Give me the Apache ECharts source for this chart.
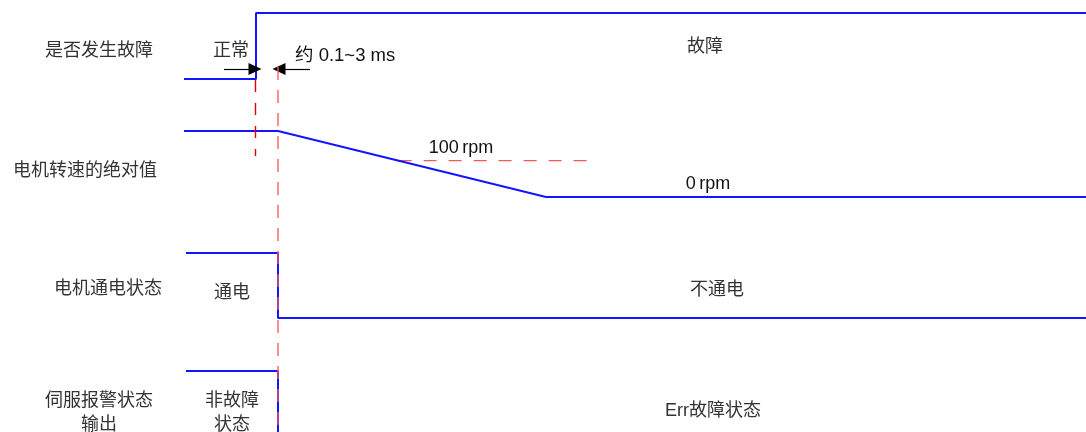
<!DOCTYPE html>
<html>
<head>
<meta charset="utf-8">
<script src="https://cdn.jsdelivr.net/npm/echarts@6/dist/echarts.min.js"></script>
<style>
html,body{margin:0;padding:0;background:#fff;}
#chart{width:1086px;height:432px;}
</style>
</head>
<body>
<div id="chart"></div>
<script>
// ---- Data (time in schematic units along the diagram, levels normalised 0..1) ----
const rowNames = ['是否发生故障', '电机转速的绝对值', '电机通电状态', '伺服报警状态\n输出'];
const tStart = 0;
const tFault = 72;      // fault occurs
const tCutoff = 94;     // power cut / alarm output (about 0.1~3 ms after fault)
const tStop = 362;      // motor speed reaches 0 rpm
const tEnd = 902;
const tThresholdEnd = 406; // end of the 100 rpm reference line

const faultTimes  = [tStart, tFault, tFault, tEnd];
const faultLevels = [0, 0, 1, 1];
const speedTimes  = [tStart, tCutoff, tStop, tEnd];
const speedLevels = [1, 1, 0, 0];
const powerTimes  = [2, tCutoff, tCutoff, tEnd];
const powerLevels = [1, 1, 0, 0];
const alarmTimes  = [2, tCutoff, tCutoff];   // low level lies below the visible area
const alarmLevels = [1, 1, 0];
const speedThreshold = 0.55; // 100 rpm level on the normalised speed axis

const stateLabels = {
  normal: '正常', fault: '故障', delay: '约 0.1~3 ms',
  rpm100: '100\u2009rpm', rpm0: '0\u2009rpm',
  powered: '通电', unpowered: '不通电',
  noFault: '非故障\n状态', errFault: 'Err故障状态'
};

const pair = (xs, ys) => xs.map((x, i) => [x, ys[i]]);
// crossing of the deceleration ramp with the 100 rpm level
const tCross = tCutoff + (1 - speedThreshold) * (tStop - tCutoff);

const BLUE = '#1414ff';
const TXT = '#333';
const FONT_CJK = '"Noto Sans CJK SC", sans-serif';
const FONT_MIX = '"Liberation Sans", "Noto Sans CJK SC", sans-serif';

const chart = echarts.init(document.getElementById('chart'), null, {renderer: 'canvas'});

const rowGrids = [
  {left: 184, right: 0, top: 13, height: 66},
  {left: 184, right: 0, top: 131, height: 66},
  {left: 184, right: 0, top: 253, height: 65},
  {left: 184, right: 0, top: 371, bottom: 0}
];
const overlayGrid = {left: 184, right: 0, top: 0, bottom: 0};
const grids = rowGrids.concat([overlayGrid]);

const xAxes = grids.map((g, i) => ({
  type: 'value', gridIndex: i, min: tStart, max: tEnd, show: false
}));
const yAxes = rowGrids.map((g, i) => ({
  type: 'value', gridIndex: i, min: 0, max: 1, show: false
})).concat([{type: 'value', gridIndex: 4, min: 0, max: 432, inverse: true, show: false}]);

function signal(idx, xs, ys) {
  return {
    type: 'line', xAxisIndex: idx, yAxisIndex: idx, data: pair(xs, ys),
    symbol: 'none', clip: false, silent: true, animation: false,
    lineStyle: {color: BLUE, width: 2}, z: 3
  };
}
function overlayLine(points, color, width, dash, z) {
  return {
    type: 'line', xAxisIndex: 4, yAxisIndex: 4, data: points,
    symbol: 'none', clip: false, silent: true, animation: false,
    lineStyle: {color: color, width: width, type: dash}, z: z || 5
  };
}

const series = [
  signal(0, faultTimes, faultLevels),
  signal(1, speedTimes, speedLevels),
  signal(2, powerTimes, powerLevels),
  signal(3, alarmTimes, alarmLevels),
  // 100 rpm reference (dashed) in speed row
  {
    type: 'line', xAxisIndex: 1, yAxisIndex: 1,
    data: [[tCross, speedThreshold], [tThresholdEnd, speedThreshold]],
    symbol: 'none', silent: true, animation: false,
    lineStyle: {color: '#f05a5a', width: 1.3, type: [13, 12]}, z: 2
  },
  // vertical dashed markers
  overlayLine([[tFault - 0.5, 80], [tFault - 0.5, 156]], '#e00000', 1.4, [12, 11], 5),
  overlayLine([[tCutoff, 67], [tCutoff, 432]], 'rgba(255,90,90,0.75)', 1.8, [13, 10], 5),
  // arrows indicating the delay
  {
    type: 'line', xAxisIndex: 4, yAxisIndex: 4, data: [], silent: true, animation: false,
    markLine: {
      silent: true, animation: false,
      symbol: ['none', 'triangle'], symbolSize: [12, 13],
      lineStyle: {color: '#000', width: 1.2, type: 'solid'},
      label: {show: false},
      data: [
        [{coord: [tFault - 32, 69]}, {coord: [tFault - 1, 69]}],
        [{coord: [tCutoff + 32, 69]}, {coord: [tCutoff + 1, 69]}]
      ]
    }
  }
];

function txt(text, x, y, font, fill) {
  return {
    type: 'text', x: x, y: y, silent: true,
    style: {text: text, fill: fill || TXT, font: font, align: 'center', verticalAlign: 'middle', lineHeight: 24}
  };
}

const graphic = [
  txt(rowNames[0], 99, 49, '18px ' + FONT_CJK),
  txt(rowNames[1], 85, 169, '18px ' + FONT_CJK),
  txt(rowNames[2], 108, 287, '18px ' + FONT_CJK),
  txt(rowNames[3], 99, 411, '18px ' + FONT_CJK),
  txt(stateLabels.normal, 231, 49, '18px ' + FONT_CJK),
  txt(stateLabels.fault, 705, 45, '18px ' + FONT_CJK),
  {type: 'text', x: 295, y: 56, silent: true,
   style: {text: stateLabels.delay, fill: '#111', font: '18.5px ' + FONT_MIX, align: 'left', verticalAlign: 'middle'}},
  txt(stateLabels.rpm100, 461, 148, '18px ' + FONT_MIX, '#111'),
  txt(stateLabels.rpm0, 708, 184, '18px ' + FONT_MIX, '#111'),
  txt(stateLabels.powered, 232, 291, '18px ' + FONT_CJK),
  txt(stateLabels.unpowered, 717, 288, '18px ' + FONT_CJK),
  txt(stateLabels.noFault, 232, 411, '18px ' + FONT_CJK),
  txt(stateLabels.errFault, 713, 411, '18px ' + FONT_MIX)
];

chart.setOption({
  backgroundColor: '#fff',
  animation: false,
  grid: grids,
  xAxis: xAxes,
  yAxis: yAxes,
  series: series,
  graphic: graphic
});
</script>
</body>
</html>
